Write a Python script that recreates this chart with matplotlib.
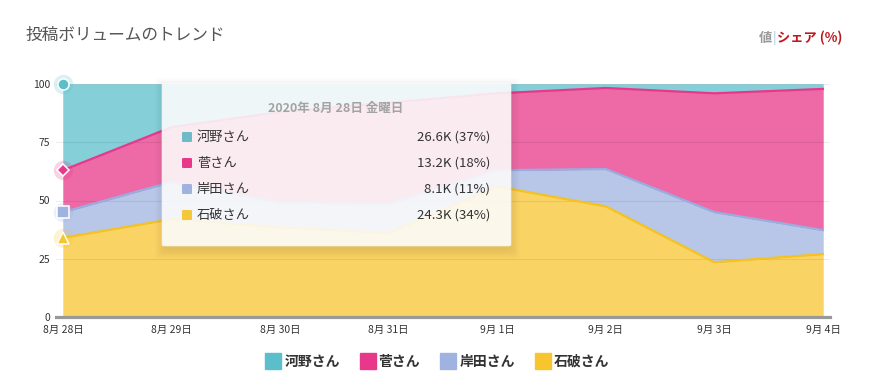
import matplotlib
matplotlib.use("Agg")
import matplotlib.pyplot as plt
from matplotlib.patches import FancyBboxPatch
from matplotlib.lines import Line2D
import numpy as np

plt.rcParams['font.family'] = ['Noto Sans CJK JP', 'DejaVu Sans']

dates = ["8月 28日", "8月 29日", "8月 30日", "8月 31日", "9月 1日", "9月 2日", "9月 3日", "9月 4日"]
names = ["石破さん", "岸田さん", "菅さん", "河野さん"]
ishiba = [34, 42, 38.5, 36, 56, 47.5, 23.5, 27]
kishida = [11, 16, 10.5, 12.5, 7, 16, 21.5, 10.3]
suga = [18, 23.5, 39, 43.5, 33, 34.8, 51, 60.6]
kono = [37, 18.5, 12, 8, 4, 1.7, 4, 2.1]
yticks = [0, 25, 50, 75, 100]

tip_title = "2020年 8月 28日 金曜日"
tip_names = ["河野さん", "菅さん", "岸田さん", "石破さん"]
tip_values = ["26.6K (37%)", "13.2K (18%)", "8.1K (11%)", "24.3K (34%)"]

colors = ["#f8c52f", "#a0b3e0", "#e8388a", "#5bbfcb"]
line_colors = ["#f5c21e", "#98ade0", "#e8388a", "#6cc5cf"]
markers = ["^", "s", "D", "o"]

W, H = 874, 392
fig = plt.figure(figsize=(W / 100, H / 100), dpi=100)
x0, x1, yb, yt = 56, 830, 317, 84
ax = fig.add_axes([x0 / W, 1 - yb / H, (x1 - x0) / W, (yb - yt) / H])

x = np.arange(len(dates))
series = [ishiba, kishida, suga, kono]
ax.stackplot(x, *series, colors=colors, alpha=0.75, linewidth=0.3, edgecolor='face', zorder=2)
cum = np.cumsum(np.array(series, dtype=float), axis=0)
for i in range(3):
    ax.plot(x, cum[i], color=line_colors[i], lw=1.6, zorder=3)

ax.set_xlim(-0.065, 7.065)
ax.set_ylim(0, 100)
ax.set_yticks(yticks)
ax.set_yticklabels([str(v) for v in yticks])
ax.set_xticks(x)
ax.set_xticklabels(dates)
ax.tick_params(axis='both', length=0, labelsize=7.5, colors='#333333')
ax.tick_params(axis='y', pad=4)
ax.tick_params(axis='x', pad=6)
for v in yticks[1:]:
    ax.axhline(v, color='#000000', alpha=0.07, lw=0.8, zorder=2.5)
for s in ['top', 'right', 'left']:
    ax.spines[s].set_visible(False)
ax.spines['bottom'].set_color('#999999')
ax.spines['bottom'].set_linewidth(2.3)
ax.spines['bottom'].set_zorder(5)

# hover markers at first point
for i in range(4):
    yv = cum[i][0]
    ax.plot([0], [yv], marker='o', ms=14, color=colors[i], alpha=0.22, mec='none', clip_on=False, zorder=6)
    ms = 8 if markers[i] != 'D' else 6.5
    ax.plot([0], [yv], marker=markers[i], ms=ms, color=colors[i], mec='white', mew=1.1, clip_on=False, zorder=7)

# tooltip
tx0, ty0, tx1, ty1 = 162, 83, 511, 246
for k in range(10, 0, -1):
    sh = FancyBboxPatch(((tx0 - k + 3) / W, 1 - (ty1 + k + 3) / H), (tx1 - tx0 + 2 * k - 4) / W, (ty1 - ty0 + 2 * k - 2) / H,
                        boxstyle="round,pad=0,rounding_size=0.006", transform=fig.transFigure,
                        facecolor='black', edgecolor='none', alpha=0.008, zorder=8)
    fig.patches.append(sh)
box = FancyBboxPatch((tx0 / W, 1 - ty1 / H), (tx1 - tx0) / W, (ty1 - ty0) / H,
                     boxstyle="round,pad=0,rounding_size=0.003", transform=fig.transFigure,
                     facecolor='white', edgecolor='#f0f0f0', lw=0.5, alpha=0.88, zorder=9)
fig.patches.append(box)
fig.text(336 / W, 1 - 108 / H, tip_title, ha='center', va='center', fontsize=9, fontweight='bold',
         color='#a3a3a3', zorder=10)
row_y = [137, 163, 189, 215]
tip_colors = ["#6fb9c9", "#e8388a", "#a0b3e0", "#f5c73a"]
for i in range(4):
    yy = 1 - row_y[i] / H
    sq = FancyBboxPatch(((182) / W, 1 - (row_y[i] + 5) / H), 10 / W, 10 / H,
                        boxstyle="round,pad=0,rounding_size=0.002", transform=fig.transFigure,
                        facecolor=tip_colors[i], edgecolor='none', zorder=10)
    fig.patches.append(sq)
    fig.text(197 / W, yy, tip_names[i], ha='left', va='center', fontsize=9.5, color='#333333', zorder=10)
    fig.text(490 / W, yy, tip_values[i], ha='right', va='center', fontsize=9.5, color='#333333', zorder=10)

# titles
fig.text(25 / W, 1 - 35 / H, "投稿ボリュームのトレンド", ha='left', va='center', fontsize=12, color='#555555')
fig.text(772 / W, 1 - 38 / H, "値", ha='right', va='center', fontsize=9.5, color='#999999', fontweight='bold')
fig.text(774 / W, 1 - 38 / H, "|", ha='center', va='center', fontsize=9.5, color='#a8c4e0')
fig.text(777 / W, 1 - 38 / H, "シェア (%)", ha='left', va='center', fontsize=9.5, color='#c0171e', fontweight='bold')

# legend
leg_colors = ["#5bbfcb", "#e8388a", "#a0b3e0", "#f8c52f"]
handles = [Line2D([0], [0], marker='s', ls='none', ms=11, color=c, mec=c) for c in leg_colors]
fig.legend(handles, tip_names, loc='center', bbox_to_anchor=(0.5, 1 - 362 / H), ncol=4, frameon=False,
           prop={'size': 10, 'weight': 'bold'}, handletextpad=0.2, columnspacing=1.4, handlelength=1.2,
           labelcolor='#333333')

fig.savefig("out.png", dpi=100, facecolor='white')
